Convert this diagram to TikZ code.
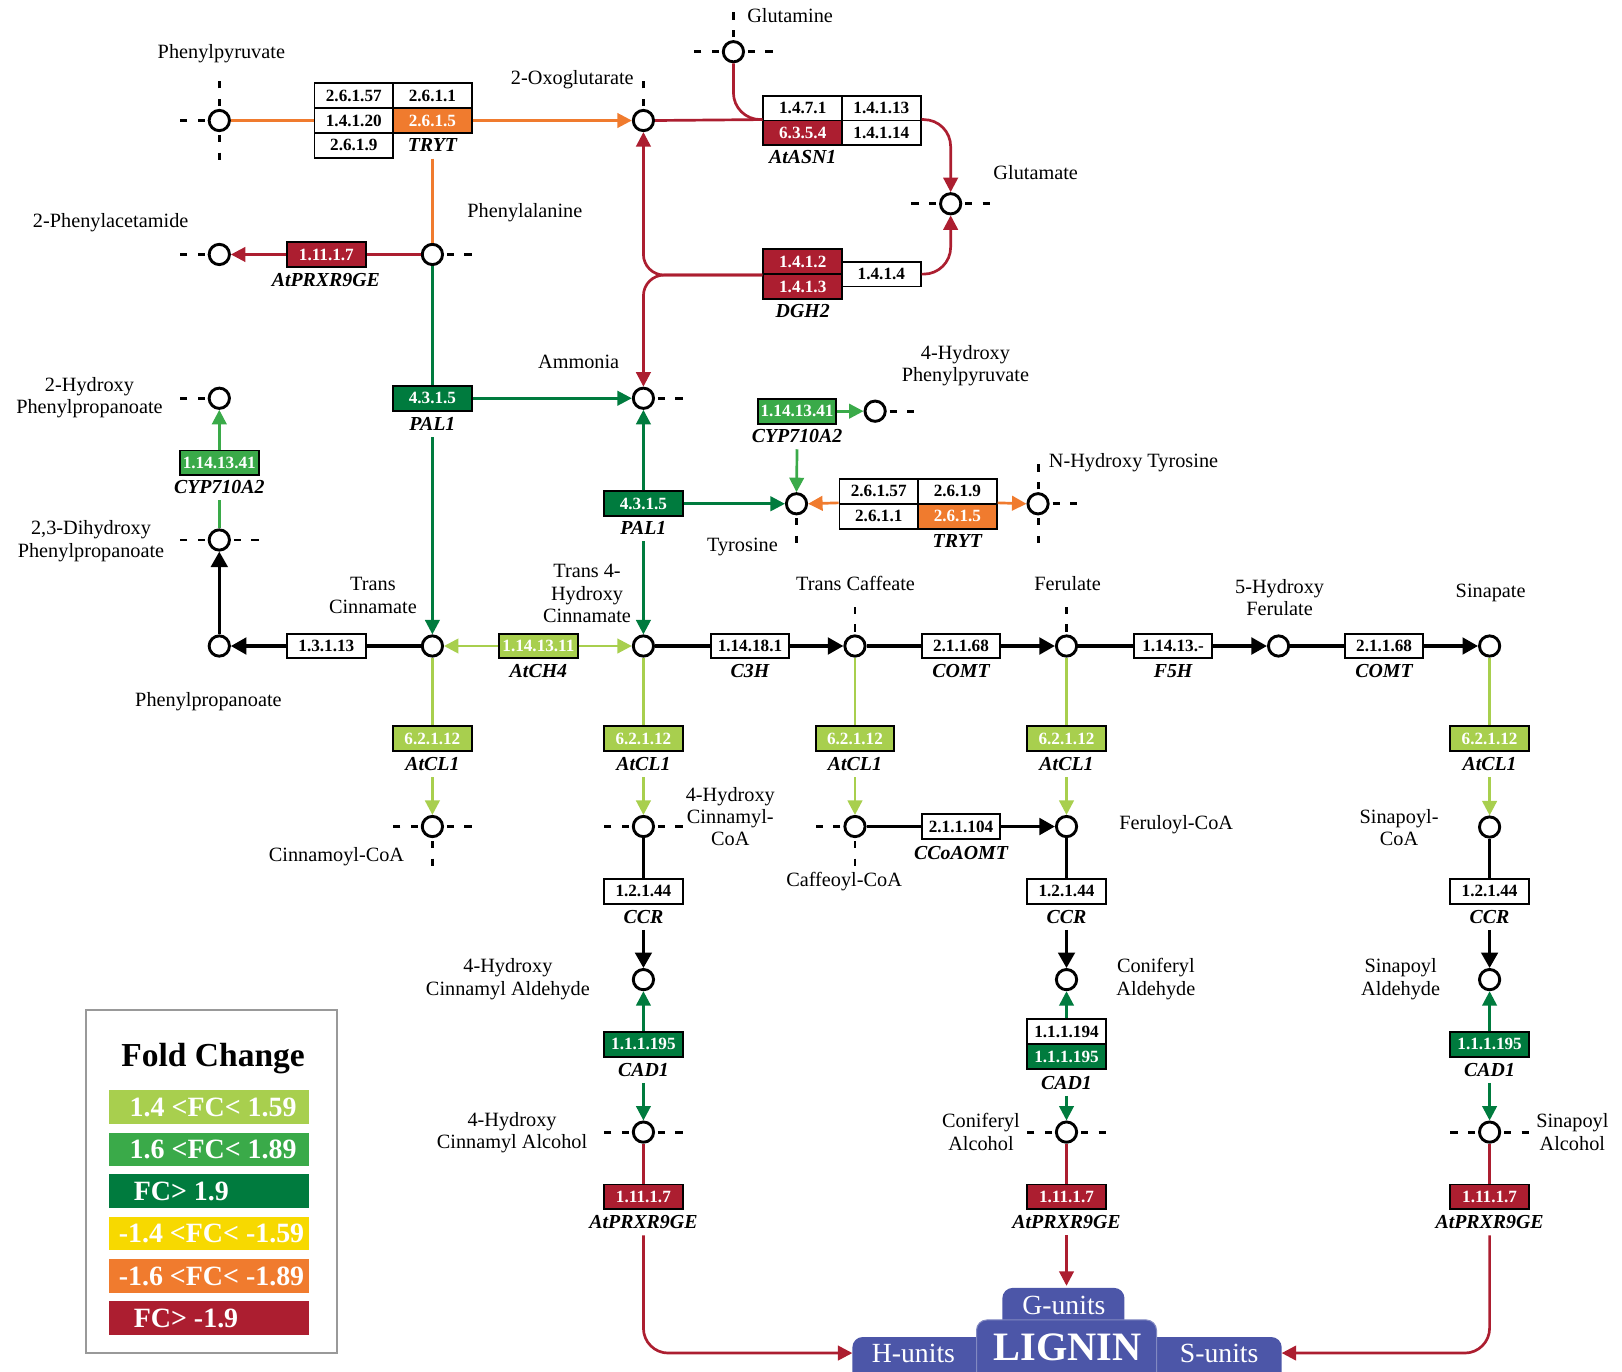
\documentclass[tikz,border=0pt]{standalone}
\usepackage{fontspec}
\setmainfont{Liberation Serif}
\usetikzlibrary{arrows.meta}
\definecolor{cR}{RGB}{172,30,48}
\definecolor{cO}{RGB}{240,123,46}
\definecolor{cLG}{RGB}{168,207,78}
\definecolor{cMG}{RGB}{58,170,73}
\definecolor{cDG}{RGB}{0,123,62}
\definecolor{cY}{RGB}{247,217,0}
\definecolor{cB}{RGB}{76,86,168}
\newcommand\stL[1]{\draw[stub] ([xshift=-7pt]#1.center) -- ([xshift=-10.5pt]#1.center) ([xshift=-15.5pt]#1.center) -- ([xshift=-19pt]#1.center);}
\newcommand\stR[1]{\draw[stub] ([xshift=7pt]#1.center) -- ([xshift=10.5pt]#1.center) ([xshift=15.5pt]#1.center) -- ([xshift=19pt]#1.center);}
\newcommand\stU[1]{\draw[stub] ([yshift=7pt]#1.center) -- ([yshift=10.5pt]#1.center) ([yshift=15.5pt]#1.center) -- ([yshift=19pt]#1.center);}
\newcommand\stD[1]{\draw[stub] ([yshift=-7pt]#1.center) -- ([yshift=-10.5pt]#1.center) ([yshift=-15.5pt]#1.center) -- ([yshift=-19pt]#1.center);}
\begin{document}
\begin{tikzpicture}[x=0.5pt,y=-0.5pt,
 cpd/.style={circle,draw=black,line width=1.4pt,minimum size=9.8pt,inner sep=0pt,fill=white},
 ec/.style={draw=black,line width=0.9pt,minimum width=38pt,minimum height=12pt,inner sep=0pt,fill=white,font=\bfseries\fontsize{8.3}{9}\selectfont},
 ecR/.style={ec,fill=cR,text=white},
 ecO/.style={ec,fill=cO,text=white},
 ecLG/.style={ec,fill=cLG,text=white},
 ecMG/.style={ec,fill=cMG,text=white},
 ecDG/.style={ec,fill=cDG,text=white},
 gene/.style={font=\bfseries\itshape\fontsize{9.6}{10}\selectfont,inner xsep=1pt,inner ysep=3pt,text height=6.4pt,text depth=0pt},
 lbl/.style={font=\fontsize{9.8}{10.8}\selectfont,align=center,inner sep=0pt},
 lbls/.style={lbl,text height=7pt,text depth=2.2pt},
 stub/.style={line width=1.4pt,draw=black},
 lR/.style={draw=cR,line width=1.3pt},
 lO/.style={draw=cO,line width=1.3pt},
 lDG/.style={draw=cDG,line width=1.3pt},
 lMG/.style={draw=cMG,line width=1.3pt},
 lLG/.style={draw=cLG,line width=1.3pt},
 lK/.style={draw=black,line width=1.6pt},
 arr/.style={-{Triangle[length=7pt,width=7pt]}},
 barr/.style={-{Triangle[length=7.5pt,width=8pt]}},
 legt/.style={font=\bfseries\fontsize{13.5}{14}\selectfont,text=white,inner sep=0pt,anchor=base west},
 ligt/.style={font=\fontsize{13.4}{14}\selectfont,text=white,inner sep=0pt,anchor=base}
]
\useasboundingbox (0,0) rectangle (1568,1326);

% ---------------- compounds
\node[cpd] (pp) at (212,116.5) {};
\node[cpd] (oxo) at (622,116.5) {};
\node[cpd] (gln) at (709,50) {};
\node[cpd] (glu) at (919,197) {};
\node[cpd] (phe) at (418,246) {};
\node[cpd] (pa) at (212,246) {};
\node[cpd] (amm) at (622,385) {};
\node[cpd] (hyd) at (212,385) {};
\node[cpd] (hpp) at (846,397.5) {};
\node[cpd] (tyr) at (770,487) {};
\node[cpd] (nht) at (1003.5,487) {};
\node[cpd] (dih) at (212,522) {};
\node[cpd] (ppa) at (212,624.5) {};
\node[cpd] (tcin) at (418,624.5) {};
\node[cpd] (t4h) at (622,624.5) {};
\node[cpd] (caf) at (826.5,624.5) {};
\node[cpd] (fer) at (1031,624.5) {};
\node[cpd] (hfer) at (1236,624.5) {};
\node[cpd] (sin) at (1440,624.5) {};
\node[cpd] (cin) at (418,799) {};
\node[cpd] (hcoa) at (622,799) {};
\node[cpd] (cafcoa) at (826.5,799) {};
\node[cpd] (fercoa) at (1031,799) {};
\node[cpd] (sincoa) at (1440,799.5) {};
\node[cpd] (hald) at (622,947) {};
\node[cpd] (cald) at (1031,947) {};
\node[cpd] (sald) at (1440,947) {};
\node[cpd] (halc) at (622,1094.4) {};
\node[cpd] (calc) at (1031,1094.4) {};
\node[cpd] (salc) at (1440,1094.4) {};

% stubs
\stL{pp}\stU{pp}\stD{pp}
\stU{oxo}
\stL{gln}\stR{gln}\stU{gln}
\stL{glu}\stR{glu}
\stR{phe}
\stL{pa}
\stR{amm}
\stL{hyd}
\stR{hpp}
\stD{tyr}
\stU{nht}\stD{nht}\stR{nht}
\stL{dih}\stR{dih}
\stU{caf}
\stU{fer}
\stL{cin}\stR{cin}\stD{cin}
\stL{hcoa}\stR{hcoa}
\stL{cafcoa}\stD{cafcoa}
\stL{halc}\stR{halc}
\stL{calc}\stR{calc}
\stL{salc}\stR{salc}

% ---------------- compound labels
\node[lbls] (ppL) at (214,51.6) {Phenylpyruvate};
\node[lbls,anchor=east] (oxoL) at (613,77.3) {2-Oxoglutarate};
\node[lbls,anchor=west] (glnL) at (722,17) {Glutamine};
\node[lbls,anchor=west] (gluL) at (960,169.2) {Glutamate};
\node[lbls,anchor=west] (pheL) at (451.5,205.3) {Phenylalanine};
\node[lbls] (paL) at (107,215.3) {2-Phenylacetamide};
\node[lbls,anchor=east] (ammL) at (599,351.3) {Ammonia};
\node[lbl] (hydL) at (86.5,384.3) {2-Hydroxy\\Phenylpropanoate};
\node[lbl] (hppL) at (933.3,353.2) {4-Hydroxy\\Phenylpyruvate};
\node[lbls] (tyrL) at (717.7,528.8) {Tyrosine};
\node[lbls,anchor=west] (nhtL) at (1013.6,447.5) {N-Hydroxy Tyrosine};
\node[lbl] (dihL) at (88,523.1) {2,3-Dihydroxy\\Phenylpropanoate};
\node[lbls] (ppaL) at (201.5,678) {Phenylpropanoate};
\node[lbl] (tcinL) at (360.5,575.8) {Trans\\Cinnamate};
\node[lbl] (t4hL) at (567.5,573.7) {Trans 4-\\Hydroxy\\Cinnamate};
\node[lbls] (cafL) at (827,566) {Trans Caffeate};
\node[lbls] (ferL) at (1032,566) {Ferulate};
\node[lbl] (hferL) at (1237,577.7) {5-Hydroxy\\Ferulate};
\node[lbls] (sinL) at (1441,572.8) {Sinapate};
\node[lbls] (cinL) at (325.3,828.3) {Cinnamoyl-CoA};
\node[lbl] (hcoaL) at (706,789.3) {4-Hydroxy\\Cinnamyl-\\CoA};
\node[lbls] (cafcoaL) at (816,852.5) {Caffeoyl-CoA};
\node[lbls,anchor=west] (fercoaL) at (1081.6,797.2) {Feruloyl-CoA};
\node[lbl] (sincoaL) at (1352.5,800.2) {Sinapoyl-\\CoA};
\node[lbl] (haldL) at (491,946.5) {4-Hydroxy\\Cinnamyl Aldehyde};
\node[lbl] (caldL) at (1117.4,946.6) {Coniferyl\\Aldehyde};
\node[lbl] (saldL) at (1354,946.6) {Sinapoyl\\Aldehyde};
\node[lbl] (halcL) at (495,1094.8) {4-Hydroxy\\Cinnamyl Alcohol};
\node[lbl] (calcL) at (948.3,1094.4) {Coniferyl\\Alcohol};
\node[lbl] (salcL) at (1520,1094.4) {Sinapoyl\\Alcohol};

% ---------------- enzyme boxes
% TRYT grid 1
\node[ec] (tA11) at (342,92.5) {2.6.1.57};
\node[ec] (tA12) at (418,92.5) {2.6.1.1};
\node[ec] (tA21) at (342,116.5) {1.4.1.20};
\node[ecO] (tA22) at (418,116.5) {2.6.1.5};
\node[ec] (tA31) at (342,140.5) {2.6.1.9};
\node[gene] (trytA) at (418,140.5) {TRYT};
% AtASN1
\node[ec] (asnA) at (776,104.5) {1.4.7.1};
\node[ec] (asnB) at (852,104.5) {1.4.1.13};
\node[ecR] (asnC) at (776,128.5) {6.3.5.4};
\node[ec] (asnD) at (852,128.5) {1.4.1.14};
\node[gene] (asnG) at (776,152) {AtASN1};
% DGH2
\node[ecR] (dA) at (776,253) {1.4.1.2};
\node[ecR] (dB) at (776,277) {1.4.1.3};
\node[ec] (dC) at (852,265) {1.4.1.4};
\node[gene] (dG) at (776,301) {DGH2};
% others
\node[ecR] (prxA) at (315.5,246) {1.11.1.7};
\node[gene] (prxAg) at (315,270.7) {AtPRXR9GE};
\node[ecDG] (pal1) at (418,385) {4.3.1.5};
\node[gene] (pal1g) at (418,410) {PAL1};
\node[ecMG] (cyp1) at (212,447.5) {1.14.13.41};
\node[gene] (cyp1g) at (212,471) {CYP710A2};
\node[ecMG] (cyp2) at (770.5,397.5) {1.14.13.41};
\node[gene] (cyp2g) at (770.5,421.5) {CYP710A2};
\node[ecDG] (pal2) at (622,487) {4.3.1.5};
\node[gene] (pal2g) at (622,510.6) {PAL1};
% TRYT grid 2
\node[ec] (tB11) at (849.5,475) {2.6.1.57};
\node[ec] (tB12) at (925.5,475) {2.6.1.9};
\node[ec] (tB21) at (849.5,499) {2.6.1.1};
\node[ecO] (tB22) at (925.5,499) {2.6.1.5};
\node[gene] (trytB) at (925.5,523) {TRYT};
% main row
\node[ec] (e13) at (315.5,624.5) {1.3.1.13};
\node[ecLG] (ch4) at (520.5,624.5) {1.14.13.11};
\node[gene] (ch4g) at (520.5,648.7) {AtCH4};
\node[ec] (c3h) at (725,624.5) {1.14.18.1};
\node[gene] (c3hg) at (725,648.7) {C3H};
\node[ec] (comt1) at (929,624.5) {2.1.1.68};
\node[gene] (comt1g) at (929,648.7) {COMT};
\node[ec] (f5h) at (1134,624.5) {1.14.13.-};
\node[gene] (f5hg) at (1134,648.7) {F5H};
\node[ec] (comt2) at (1338,624.5) {2.1.1.68};
\node[gene] (comt2g) at (1338,648.7) {COMT};
% 4CL
\node[ecLG] (cl1) at (418,714) {6.2.1.12};
\node[gene] (cl1g) at (418,738.6) {AtCL1};
\node[ecLG] (cl2) at (622,714) {6.2.1.12};
\node[gene] (cl2g) at (622,738.6) {AtCL1};
\node[ecLG] (cl3) at (826.5,714) {6.2.1.12};
\node[gene] (cl3g) at (826.5,738.6) {AtCL1};
\node[ecLG] (cl4) at (1031,714) {6.2.1.12};
\node[gene] (cl4g) at (1031,738.6) {AtCL1};
\node[ecLG] (cl5) at (1440,714) {6.2.1.12};
\node[gene] (cl5g) at (1440,738.6) {AtCL1};
% CCoAOMT
\node[ec] (e104) at (929,799) {2.1.1.104};
\node[gene] (e104g) at (929,824.8) {CCoAOMT};
% CCR
\node[ec] (ccr1) at (622,861.5) {1.2.1.44};
\node[gene] (ccr1g) at (622,886) {CCR};
\node[ec] (ccr2) at (1031,861.5) {1.2.1.44};
\node[gene] (ccr2g) at (1031,886) {CCR};
\node[ec] (ccr3) at (1440,861.5) {1.2.1.44};
\node[gene] (ccr3g) at (1440,886) {CCR};
% CAD
\node[ecDG] (cad1) at (622,1009.4) {1.1.1.195};
\node[gene] (cad1g) at (622,1034) {CAD1};
\node[ec] (cad2a) at (1031,997.3) {1.1.1.194};
\node[ecDG] (cad2b) at (1031,1021.5) {1.1.1.195};
\node[gene] (cad2g) at (1031,1046.7) {CAD1};
\node[ecDG] (cad3) at (1440,1009.4) {1.1.1.195};
\node[gene] (cad3g) at (1440,1034) {CAD1};
% PRX
\node[ecR] (prx1) at (622,1157) {1.11.1.7};
\node[gene] (prx1g) at (622,1181.5) {AtPRXR9GE};
\node[ecR] (prx2) at (1031,1157) {1.11.1.7};
\node[gene] (prx2g) at (1031,1181.5) {AtPRXR9GE};
\node[ecR] (prx3) at (1440,1157) {1.11.1.7};
\node[gene] (prx3g) at (1440,1181.5) {AtPRXR9GE};

% ---------------- LIGNIN
\fill[cB,rounded corners=5pt] (824,1292.5) rectangle (1239,1345);
\fill[cB,rounded corners=5pt] (969,1245) rectangle (1087,1300);
\filldraw[fill=cB,draw=cB!70!white,line width=0.5pt,rounded corners=5pt] (944,1276) rectangle (1118,1345);
\node[ligt] (gu) at (1028.5,1270.3) {G-units};
\node[ligt] (hu) at (883,1317.5) {H-units};
\node[ligt] (su) at (1178.6,1317.5) {S-units};
\node[font=\bfseries\fontsize{19.5}{20}\selectfont,text=white,inner sep=0pt,anchor=base] (lig) at (1032,1315) {LIGNIN};
\coordinate (Hin) at (824,1308);
\coordinate (Sin) at (1239,1308);
\coordinate (Gin) at (1031,1243);

% ---------------- connectors
% orange
\draw[lO] (pp.east) -- (tA21.west);
\draw[lO,arr] (tA22.east) -- (oxo.west);
\draw[lO] (trytA.south) -- (phe.north);
\draw[lO,arr] (tB21.north west) -- (tyr.east);
\draw[lO,arr] (tB22.north east) -- (nht.west);
% red top
\draw[lR] (oxo.east) -- (asnC.north west);
\draw[lR,rounded corners=13pt] (gln.south) |- (asnC.north west);
\draw[lR,arr,rounded corners=13pt] (asnD.north east) -| (glu.north);
\draw[lR,arr,rounded corners=13pt] (dC.east) -| (glu.south);
\draw[lR,arr,rounded corners=10pt] (dA.south west) -| (oxo.south);
\draw[lR,arr,rounded corners=10pt] (dA.south west) -| (amm.north);
\draw[lR] (phe.west) -- (prxA.east);
\draw[lR,arr] (prxA.west) -- (pa.east);
% dark green
\draw[lDG] (phe.south) -- (pal1.north);
\draw[lDG,arr] (pal1.east) -- (amm.west);
\draw[lDG,arr] (pal1g.south) -- (tcin.north);
\draw[lDG,arr] (pal2.north) -- (amm.south);
\draw[lDG,arr] (pal2.east) -- (tyr.west);
\draw[lDG,arr] (pal2g.south) -- (t4h.north);
% medium green
\draw[lMG,arr] (cyp1.north) -- (hyd.south);
\draw[lMG] (dih.north) -- (cyp1g.south);
\draw[lMG,arr] (cyp2.east) -- (hpp.west);
\draw[lMG,arr] (cyp2g.south) -- (tyr.north);
% light green
\draw[lLG,arr] (ch4.west) -- (tcin.east);
\draw[lLG,arr] (ch4.east) -- (t4h.west);
\draw[lLG] (tcin.south) -- (cl1.north);
\draw[lLG,arr] (cl1g.south) -- (cin.north);
\draw[lLG] (t4h.south) -- (cl2.north);
\draw[lLG,arr] (cl2g.south) -- (hcoa.north);
\draw[lLG] (caf.south) -- (cl3.north);
\draw[lLG,arr] (cl3g.south) -- (cafcoa.north);
\draw[lLG] (fer.south) -- (cl4.north);
\draw[lLG,arr] (cl4g.south) -- (fercoa.north);
\draw[lLG] (sin.south) -- (cl5.north);
\draw[lLG,arr] (cl5g.south) -- (sincoa.north);
% black
\draw[lK] (tcin.west) -- (e13.east);
\draw[lK,barr] (e13.west) -- (ppa.east);
\draw[lK,barr] (ppa.north) -- (dih.south);
\draw[lK] (t4h.east) -- (c3h.west);
\draw[lK,barr] (c3h.east) -- (caf.west);
\draw[lK] (caf.east) -- (comt1.west);
\draw[lK,barr] (comt1.east) -- (fer.west);
\draw[lK] (fer.east) -- (f5h.west);
\draw[lK,barr] (f5h.east) -- (hfer.west);
\draw[lK] (hfer.east) -- (comt2.west);
\draw[lK,barr] (comt2.east) -- (sin.west);
\draw[lK] (cafcoa.east) -- (e104.west);
\draw[lK,barr] (e104.east) -- (fercoa.west);
\draw[lK] (hcoa.south) -- (ccr1.north);
\draw[lK,barr] (ccr1g.south) -- (hald.north);
\draw[lK] (fercoa.south) -- (ccr2.north);
\draw[lK,barr] (ccr2g.south) -- (cald.north);
\draw[lK] (sincoa.south) -- (ccr3.north);
\draw[lK,barr] (ccr3g.south) -- (sald.north);
% CAD dark green
\draw[lDG,arr] (cad1.north) -- (hald.south);
\draw[lDG,arr] (cad1g.south) -- (halc.north);
\draw[lDG,arr] (cad2a.north) -- (cald.south);
\draw[lDG,arr] (cad2g.south) -- (calc.north);
\draw[lDG,arr] (cad3.north) -- (sald.south);
\draw[lDG,arr] (cad3g.south) -- (salc.north);
% red bottom
\draw[lR] (halc.south) -- (prx1.north);
\draw[lR,arr,rounded corners=12pt] (prx1g.south) |- (Hin);
\draw[lR] (calc.south) -- (prx2.north);
\draw[lR,arr] (prx2g.south) -- (Gin);
\draw[lR] (salc.south) -- (prx3.north);
\draw[lR,arr,rounded corners=12pt] (prx3g.south) |- (Sin);

% ---------------- legend
\draw[draw=black!40,line width=0.8pt] (83,976.5) rectangle (325.5,1308);
\node[font=\bfseries\fontsize{16.2}{17}\selectfont,inner sep=0pt,anchor=base] (fc) at (206,1031) {Fold Change};
\fill[cLG] (105.4,1054) rectangle (299,1086.5);
\fill[cMG] (105.4,1094.8) rectangle (299,1127.3);
\fill[cDG] (105.4,1135.3) rectangle (299,1167.8);
\fill[cY] (105.4,1176.1) rectangle (299,1208.6);
\fill[cO] (105.4,1217) rectangle (299,1249.5);
\fill[cR] (105.4,1257.7) rectangle (299,1290.2);
\node[legt] (lg1) at (125,1079.4) {1.4 <FC< 1.59};
\node[legt] (lg2) at (125,1120.2) {1.6 <FC< 1.89};
\node[legt] (lg3) at (129,1160.7) {FC> 1.9};
\node[legt] (lg4) at (114.4,1201.5) {-1.4 <FC< -1.59};
\node[legt] (lg5) at (114.4,1242.4) {-1.6 <FC< -1.89};
\node[legt] (lg6) at (129,1283.1) {FC> -1.9};
\end{tikzpicture}
\end{document}
